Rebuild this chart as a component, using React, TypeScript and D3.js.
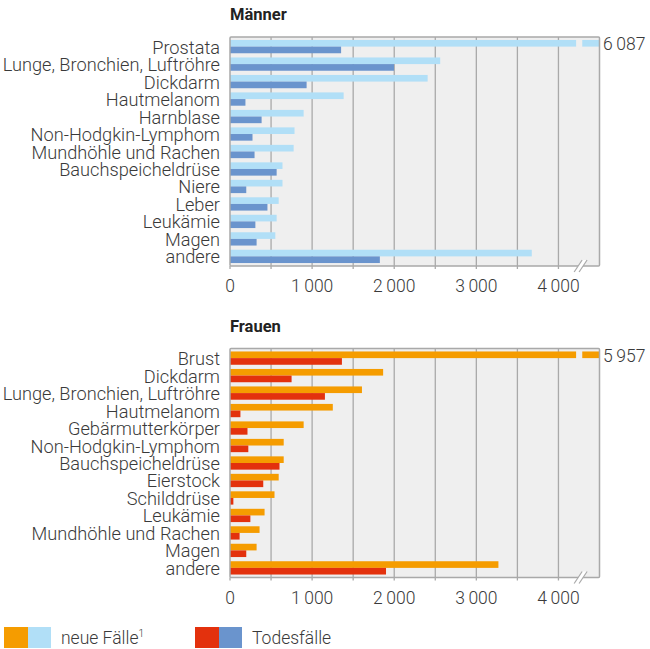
import React from "react";
import * as d3 from "d3";

const menCategories = [
  "Prostata", "Lunge, Bronchien, Luftröhre", "Dickdarm", "Hautmelanom", "Harnblase",
  "Non-Hodgkin-Lymphom", "Mundhöhle und Rachen", "Bauchspeicheldrüse", "Niere", "Leber",
  "Leukämie", "Magen", "andere",
];
const menNew = [6087, 2560, 2407, 1384, 897, 786, 775, 639, 639, 593, 568, 552, 3675];
const menDeaths = [1353, 1997, 933, 188, 385, 274, 299, 568, 198, 456, 309, 324, 1825];

const womenCategories = [
  "Brust", "Dickdarm", "Lunge, Bronchien, Luftröhre", "Hautmelanom", "Gebärmutterkörper",
  "Non-Hodgkin-Lymphom", "Bauchspeicheldrüse", "Eierstock", "Schilddrüse", "Leukämie",
  "Mundhöhle und Rachen", "Magen", "andere",
];
const womenNew = [5957, 1865, 1607, 1252, 897, 654, 654, 593, 542, 421, 360, 324, 3269];
const womenDeaths = [1363, 750, 1156, 127, 213, 223, 603, 405, 41, 248, 117, 198, 1900];

const tickValues = [0, 1000, 2000, 3000, 4000];
const tickLabels = ["0", "1\u2009000", "2\u2009000", "3\u2009000", "4\u2009000"];
const gridValues = [500, 1000, 1500, 2000, 2500, 3000, 3500, 4000];
const valueLabels = ["6\u2009087", "5\u2009957"];

const FONT = "Roboto, 'Noto Sans', sans-serif";
const TEXT = "#3a3a3a";
const GRID = "#a9a9a9";
const BG = "#efefef";

const X_MAX = 4500;
const BREAK_START = 4215;
const BREAK_END = 4290;

const x = d3.scaleLinear().domain([0, X_MAX]).range([230, 599.5]);

type PanelProps = {
  title: string;
  categories: string[];
  newVals: number[];
  deathVals: number[];
  top: number;
  newColor: string;
  deathColor: string;
  valueLabel: string;
};

function Panel({ title, categories, newVals, deathVals, top, newColor, deathColor, valueLabel }: PanelProps) {
  const frameTop = top + 37;
  const frameBottom = top + 266;
  const y = d3.scaleBand<string>().domain(categories).range([frameTop, frameBottom]).paddingInner(0.24).paddingOuter(0.17);
  const sub = d3.scaleBand<string>().domain(["new", "death"]).range([0, y.bandwidth()]);
  const x0 = x(0);
  const xR = x(X_MAX);

  const barSegments = (v: number) => {
    if (v <= X_MAX) return [[0, v]];
    return [[0, BREAK_START], [BREAK_END, X_MAX]];
  };

  return (
    <g>
      <text x={x0} y={top + 20} fontFamily={FONT} fontWeight={700} fontSize={16.5} fill="#222">{title}</text>
      <rect x={x0} y={frameTop} width={xR - x0} height={frameBottom - frameTop} fill={BG} />
      {gridValues.map((g) => (
        <line key={g} x1={x(g)} x2={x(g)} y1={frameTop} y2={frameBottom + 3} stroke={GRID} strokeWidth={1.3} />
      ))}
      {categories.map((c, i) => (
        <g key={c}>
          {barSegments(newVals[i]).map(([a, b], k) => (
            <rect key={k} x={x(a)} y={(y(c) as number) + (sub("new") as number)} width={x(b) - x(a)} height={sub.bandwidth()} fill={newColor} />
          ))}
          {barSegments(deathVals[i]).map(([a, b], k) => (
            <rect key={k} x={x(a)} y={(y(c) as number) + (sub("death") as number)} width={x(b) - x(a)} height={sub.bandwidth()} fill={deathColor} />
          ))}
          <text x={220} y={(y(c) as number) + y.bandwidth() / 2 + 0.5} textAnchor="end" dominantBaseline="central"
            fontFamily={FONT} fontWeight={300} fontSize={18.2} fill={TEXT}>{c}</text>
        </g>
      ))}
      {categories.map((c, i) =>
        newVals[i] > X_MAX ? (
          <text key={"v" + c} x={603} y={(y(c) as number) + (sub("new") as number) + sub.bandwidth() / 2 + 1} dominantBaseline="central"
            fontFamily={FONT} fontWeight={300} fontSize={17.5} fill={TEXT}>{valueLabel}</text>
        ) : null
      )}
      <rect x={x0} y={frameTop} width={xR - x0} height={frameBottom - frameTop} fill="none" stroke={GRID} strokeWidth={1.5} rx={1} />
      <line x1={x0} x2={x0} y1={frameBottom} y2={frameBottom + 3} stroke={GRID} strokeWidth={1.3} />
      <polygon points={`${x(4240) - 4},${frameBottom + 6} ${x(4240) + 4},${frameBottom - 6} ${x(4300) + 4},${frameBottom - 6} ${x(4300) - 4},${frameBottom + 6}`} fill="#ffffff" />
      <line x1={x(4240) - 4} y1={frameBottom + 6} x2={x(4240) + 4} y2={frameBottom - 6} stroke={GRID} strokeWidth={1.2} />
      <line x1={x(4300) - 4} y1={frameBottom + 6} x2={x(4300) + 4} y2={frameBottom - 6} stroke={GRID} strokeWidth={1.2} />
      {tickValues.map((t, i) => (
        <text key={t} x={x(t)} y={frameBottom + 26} textAnchor="middle" fontFamily={FONT} fontWeight={300} fontSize={17.5} fill={TEXT}>{tickLabels[i]}</text>
      ))}
    </g>
  );
}

export default function App() {
  return (
    <svg width={650} height={649} style={{ position: "absolute", left: 0, top: 0, background: "#fff" }}>
      <Panel title="Männer" categories={menCategories} newVals={menNew} deathVals={menDeaths} top={0}
        newColor="#b1dff7" deathColor="#6a94cd" valueLabel={valueLabels[0]} />
      <Panel title="Frauen" categories={womenCategories} newVals={womenNew} deathVals={womenDeaths} top={311.5}
        newColor="#f59c00" deathColor="#e3310d" valueLabel={valueLabels[1]} />
      <g>
        <rect x={4} y={627} width={24} height={21} fill="#f59c00" />
        <rect x={28} y={627} width={23} height={21} fill="#b1dff7" />
        <text x={61} y={644} fontFamily={FONT} fontWeight={300} fontSize={17.5} fill={TEXT}>
          neue Fälle<tspan fontSize={10} dy={-7}>1</tspan>
        </text>
        <rect x={195} y={627} width={24} height={21} fill="#e3310d" />
        <rect x={219} y={627} width={23} height={21} fill="#6a94cd" />
        <text x={252} y={644} fontFamily={FONT} fontWeight={300} fontSize={17.5} fill={TEXT}>Todesfälle</text>
      </g>
    </svg>
  );
}
